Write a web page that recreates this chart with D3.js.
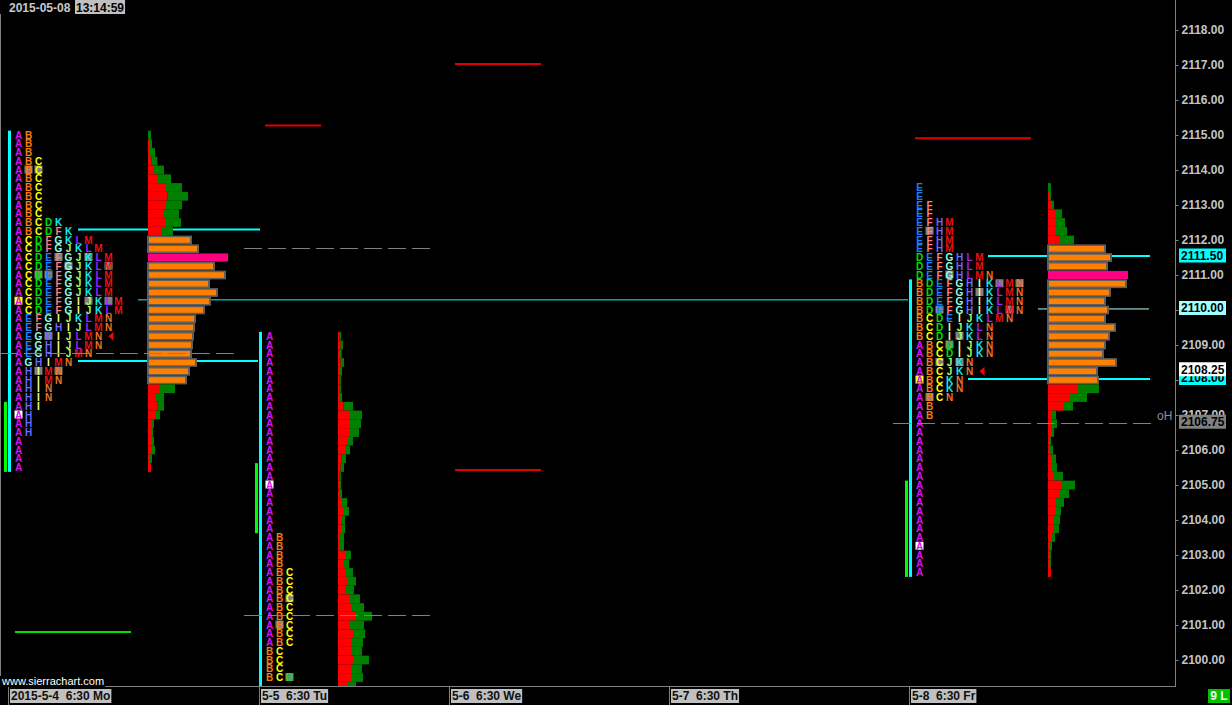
<!DOCTYPE html>
<html><head><meta charset="utf-8">
<script src="https://cdn.jsdelivr.net/npm/d3@7"></script>
<style>html,body{margin:0;padding:0;background:#000;}svg{display:block;}</style>
</head><body><svg id="c" width="1232" height="705"></svg>
<script>
// ================= DATA =================
const dateStamp = "2015-05-08";
const timeStamp = "13:14:59";
const sessionLabels = ["2015-5-4  6:30 Mo", "5-5  6:30 Tu", "5-6  6:30 We", "5-7  6:30 Th", "5-8  6:30 Fr"];
const priceTicks = [2100, 2101, 2102, 2103, 2104, 2105, 2106, 2107, 2108, 2109, 2110, 2111, 2112, 2113, 2114, 2115, 2116, 2117, 2118];

// TPO letter rows (top price, then one string per 0.25 step downward)
const day1TpoTop = 2115.00;
const day1Rows = ["AB","AB","AB","ABC","ABC","ABC","ABC","ABC","ABC","ABC","ABCDK","ABCDFK",
  "ACDFGKLM","ACDFGJKLM","ACDEFGJKLM","ACDEFGJKLM","ACDEFGJKLM","ACDEFGJKLM","ACDEFGJKLM",
  "ACDEFGIJKLM","ACDEFGIJKLM","AEFGIJKLMN","AEFGHIJLMN","AEGHIJLMN","AEGHIJLMN","AEGHIJMN",
  "AGHIMN","AHIMN","AHIMN","AHIN","AHIN","AHI","AH","AH","AH","A","A","A","A"];
const day1Highlights = [[2114.00,"B","g"],[2114.00,"C","g"],[2111.50,"F","g"],[2111.50,"K","g"],
  [2111.25,"G","g"],[2111.25,"M","g"],[2111.00,"D","g"],[2111.00,"E","g"],[2110.25,"A","y"],
  [2110.25,"J","g"],[2110.25,"L","g"],[2109.25,"H","g"],[2108.25,"I","g"],[2108.25,"N","g"],[2107.00,"A","w"]];
const day1Marker = 2109.25;
const day1IB = [2115.00, 2105.50];
const day1Green = [2107.25, 2105.50];

const day2TpoTop = 2109.25;
const day2Rows = ["A","A","A","A","A","A","A","A","A","A","A","A","A","A","A","A","A","A","A","A","A","A","A",
  "AB","AB","AB","AB","ABC","ABC","ABC","ABC","ABC","ABC","ABC","ABC","ABC","BC","BC","BC","BCD","BCD"];
const day2Highlights = [[2105.00,"A","w"],[2101.75,"C","g"],[2101.00,"B","g"],[2099.50,"D","g"]];
const day2IB = [2109.25, 2099.25];
const day2Green = [2105.50, 2103.75];

const day5TpoTop = 2113.50;
const day5Rows = ["E","E","EF","EF","EFHM","EFHM","EFHM","EFHM","DEFGHLM","DEFGHLM","DEFGHLMN",
  "BDEFGHIKLMN","BDEFGHIKLMN","BDEFGHIKLMN","BDEFGHIKLMN","BCDEIJKLMN","BCDIJKLN","BCDIJKLN",
  "ABCDIJKN","ABCDIJKN","ABCJKN","ABCJKN","ABCKN","ABCKN","ABCN","AB","AB",
  "A","A","A","A","A","A","A","A","A","A","A","A","A","A","A","A","A","A"];
const day5Highlights = [[2112.25,"F","g"],[2111.00,"G","g"],[2110.75,"L","g"],[2110.75,"N","g"],
  [2110.50,"I","g"],[2110.00,"E","g"],[2110.00,"M","g"],[2109.25,"J","g"],[2109.00,"D","g"],
  [2108.50,"C","g"],[2108.50,"K","g"],[2108.00,"A","y"],[2107.50,"B","g"],[2103.25,"A","w"]];
const day5Marker = 2108.25;
const day5IB = [2110.75, 2102.50];
const day5Green = [2105.00, 2102.50];

// Volume profiles (top price, totals and down-volume part per 0.25 row; null = hidden inside value area)
const day1VolTop = 2115.00;
const day1Total = [3,4,7,9.3,16,23,34,40,34,31,33,25, 44,51,80,67,78,62,70,63,57,48,47,46,45,44,49,42,39, 27,16,16,12,6,5,6,7,4,3];
const day1Red = [0,2,2,3.7,6,10,18,19.3,18,16,18,13, null,null,null,null,null,null,null,null,null,null,null,null,null,null,null,null,null, 12,8,9.3,7,4,3,3,3,2,3];
const day1VA = [2112.00, 2108.00];
const day1POC = 2111.50;

const day2VolTop = 2109.25;
const day2Total = [3,5,3.7,6,4,3,3,4,15,24,23,21,15,12,8,6,3,3,4,9,11,7,7,6,6,13,11,15,18,16,22,26,34,26,27,25,24,31,24,25,18];
const day2Red = [1.3,2.7,2,2.7,2,1.3,1.3,2,5.3,11,11,11,9,7,3.7,2.7,1.3,2,2,4,5,4,3,2,2,7,6,7,9,8,11,14,18,12,16,13,13,16,13,14,10];

const day5VolTop = 2113.50;
const day5Total = [3,3,6,14,17,19,26, 58,64,60,80,79,63,58,61,58,68,62,58,56,69,50,51, 51,39,25,8,9,6,3,5,8,9,15,27,21,16,13,12,11,7,4,3,3,3];
const day5Red = [0,1,3,7,8,8,12, null,null,null,null,null,null,null,null,null,null,null,null,null,null,null,null, 29,22,15,4,4,3,2,2,4,4,6,13,11,8,7,6,5,4,2,1,1,3];
const day5VA = [2111.75, 2108.00];
const day5POC = 2111.00;

// Horizontal reference levels (prices)
const cyanLevels = [2112.30, 2108.54, 2110.29, 2111.54, 2108.03, 2110.03];
const redLevels = [2115.27, 2117.03, 2105.43, 2114.91];
const dashLevels = [2108.77, 2111.77, 2101.29, 2106.77];
const greenLevels = [2100.80];
const axisMarkers = [2111.50, 2110.00, 2108.00, 2108.25, 2106.75];

// ================= LAYOUT / STYLE =================
const W = 1232, H = 705, plotRight = 1175, plotBottom = 686;
const sessionStartCol = [0.8, 25.9, 44.9, 66.9, 90.9];
const tpoOffsetCol = 1.05;
const volOffsetCol = [14.0, 7.9, null, null, 13.9];
const cyanLayout = [[7.8,26.0,2],[7.8,25.8,2],[13.8,90.8,1],[98.8,115.0,2],[96.8,115.0,2],[103.8,114.9,1]];
const redLayout = [[26.5,32.1],[45.5,54.1],[45.5,54.1],[91.5,103.1]];
const dashLayout = [[0,23.8],[24.4,43.0],[24.4,43.0],[89.3,115.2]];
const greenLayout = [[1.5,13.1]];
const markerStyles = ["#00ffff","#a0ffff","#00ffff","#ffffff","#808080"];
const letterColors = {A:"#dc10f4",B:"#f47c10",C:"#ffff00",D:"#00e000",E:"#1a80ff",F:"#ff8080",G:"#90ffe0",
  H:"#6a6aff",I:"#eeff90",J:"#a8ff60",K:"#10ecec",L:"#a424ff",M:"#ec1010",N:"#ec7424"};
const hlColors = {g:"#808080", y:"#ffff00", w:"#ffffff"};
const FONT = "'Liberation Sans', Arial, sans-serif";

// ================= SCALES =================
const y = d3.scaleLinear().domain([2100, 2118]).range([660, 30]);
const rowH = Math.abs(y(2100.25) - y(2100));
const xCol = d3.scaleLinear().domain([0, 117.5]).range([0, plotRight]);
const vol = d3.scaleLinear().domain([0, 80]).range([0, 80]);

const svg = d3.select("#c");
svg.append("rect").attr("width", W).attr("height", H).attr("fill", "#000");
svg.append("defs").append("clipPath").attr("id", "clip")
  .append("rect").attr("x", 0).attr("y", 0).attr("width", plotRight).attr("height", plotBottom);
const plot = svg.append("g").attr("clip-path", "url(#clip)");

const profiles = [
  {day:0, tpoTop:day1TpoTop, rows:day1Rows, hl:day1Highlights, marker:day1Marker, ib:day1IB, green:day1Green,
   volTop:day1VolTop, total:day1Total, red:day1Red, va:day1VA, poc:day1POC},
  {day:1, tpoTop:day2TpoTop, rows:day2Rows, hl:day2Highlights, marker:null, ib:day2IB, green:day2Green,
   volTop:day2VolTop, total:day2Total, red:day2Red, va:null, poc:null},
  {day:4, tpoTop:day5TpoTop, rows:day5Rows, hl:day5Highlights, marker:day5Marker, ib:day5IB, green:day5Green,
   volTop:day5VolTop, total:day5Total, red:day5Red, va:day5VA, poc:day5POC}
];

// IB (cyan) and green bars
profiles.forEach(p => {
  const bx = xCol(sessionStartCol[p.day]);
  plot.append("rect").attr("x", bx).attr("y", y(p.ib[0]) - rowH/2).attr("width", 3)
    .attr("height", y(p.ib[1]) - y(p.ib[0]) + rowH).attr("fill", "#00ffff");
  plot.append("rect").attr("x", bx - 4).attr("y", y(p.green[0]) - rowH/2).attr("width", 3)
    .attr("height", y(p.green[1]) - y(p.green[0]) + rowH).attr("fill", "#00ff00");
});

// TPO letters
profiles.forEach(p => {
  const c0 = sessionStartCol[p.day] + tpoOffsetCol;
  const g = plot.append("g");
  p.rows.forEach((s, i) => {
    const price = p.tpoTop - i * 0.25;
    const cy = y(price);
    if (cy > plotBottom - 2) return;
    [...s].forEach((ch, j) => {
      const cx = xCol(c0 + j);
      const h = p.hl.find(d => d[0] === price && d[1] === ch);
      if (h) g.append("rect").attr("x", cx - 4).attr("y", cy - 4.5).attr("width", 8).attr("height", 8).attr("fill", hlColors[h[2]]);
      g.append("text").attr("x", cx).attr("y", cy).attr("dy", "0.37em").attr("text-anchor", "middle")
        .attr("font-family", FONT).attr("font-size", "10px").attr("font-weight", "bold")
        .attr("fill", letterColors[ch]).text(ch);
    });
    if (p.marker === price) {
      const mx = xCol(c0 + s.length + 0.25);
      plot.append("path").attr("d", `M${mx-2.5},${cy} L${mx+2.5},${cy-4.5} L${mx+2.5},${cy+4.5} Z`).attr("fill", "#ff0000");
    }
  });
});

// Cyan levels (under volume bars)
cyanLevels.forEach((pr, i) => {
  const L = cyanLayout[i];
  plot.append("line").attr("x1", xCol(L[0])).attr("x2", xCol(L[1])).attr("y1", y(pr)).attr("y2", y(pr))
    .attr("stroke", i === 5 ? "#b0ffff" : "#00ffff").attr("stroke-width", L[2]);
});

// Volume profiles
profiles.forEach(p => {
  const x0 = xCol(sessionStartCol[p.day] + volOffsetCol[p.day]);
  const g = plot.append("g");
  p.total.forEach((t, i) => {
    const price = p.volTop - i * 0.25;
    const top = y(price) - rowH / 2;
    const w = vol(t);
    const inVA = p.va && price <= p.va[0] && price >= p.va[1];
    if (p.poc === price) {
      g.append("rect").attr("x", x0).attr("y", top + 0.3).attr("width", w).attr("height", rowH - 0.6).attr("fill", "#ff0080");
    } else if (inVA) {
      g.append("rect").attr("x", x0 - 1).attr("y", top).attr("width", w + 1).attr("height", rowH).attr("fill", "#5f5f5f");
      g.append("rect").attr("x", x0 + 1).attr("y", top + 1.6).attr("width", Math.max(0, w - 3)).attr("height", rowH - 3.2).attr("fill", "#ff8000");
    } else {
      const r = vol(p.red[i]);
      g.append("rect").attr("x", x0).attr("y", top).attr("width", r).attr("height", rowH).attr("fill", "#ff0000");
      g.append("rect").attr("x", x0 + r).attr("y", top).attr("width", Math.max(0, w - r)).attr("height", rowH).attr("fill", "#008000");
    }
  });
});

// Dashed levels
dashLevels.forEach((pr, i) => {
  const L = dashLayout[i];
  plot.append("line").attr("x1", xCol(L[0])).attr("x2", xCol(L[1])).attr("y1", Math.round(y(pr)) + 0.5).attr("y2", Math.round(y(pr)) + 0.5)
    .attr("stroke", "#808080").attr("stroke-width", 1).attr("stroke-dasharray", "18,6");
});
// Red levels
redLevels.forEach((pr, i) => {
  const L = redLayout[i];
  plot.append("line").attr("x1", xCol(L[0])).attr("x2", xCol(L[1])).attr("y1", y(pr)).attr("y2", y(pr))
    .attr("stroke", "#e00000").attr("stroke-width", 2);
});
// Green levels
greenLevels.forEach((pr, i) => {
  const L = greenLayout[i];
  plot.append("line").attr("x1", xCol(L[0])).attr("x2", xCol(L[1])).attr("y1", y(pr)).attr("y2", y(pr))
    .attr("stroke", "#00e000").attr("stroke-width", 2);
});
// "oH" label
plot.append("text").attr("x", 1157).attr("y", y(dashLevels[3]) - 3).attr("font-family", FONT).attr("font-size", "12px")
  .attr("fill", "#8595a5").text("oH");

// Frame lines
svg.append("line").attr("x1", 0.5).attr("x2", 0.5).attr("y1", 14).attr("y2", plotBottom).attr("stroke", "#808080");
svg.append("line").attr("x1", plotRight + 0.5).attr("x2", plotRight + 0.5).attr("y1", 0).attr("y2", plotBottom + 0.5).attr("stroke", "#808080");
svg.append("line").attr("x1", 0).attr("x2", plotRight + 1).attr("y1", plotBottom + 0.5).attr("y2", plotBottom + 0.5).attr("stroke", "#808080");

// Y axis
const yAxis = d3.axisRight(y).tickValues(priceTicks).tickSize(3).tickPadding(3).tickFormat(d => d.toFixed(2));
const ya = svg.append("g").attr("transform", `translate(${plotRight + 0.5},0)`).call(yAxis);
ya.select(".domain").remove();
ya.selectAll(".tick line").attr("stroke", "#808080");
ya.selectAll(".tick text").attr("fill", "#c4c4c4").attr("font-family", FONT).attr("font-size", "12px").attr("font-weight", "bold");

// Highlighted price markers on the axis
axisMarkers.forEach((pr, i) => {
  const cy = y(pr) - 2;
  svg.append("rect").attr("x", 1179).attr("y", cy - 7).attr("width", 47).attr("height", 14).attr("fill", markerStyles[i]);
  svg.append("text").attr("x", 1181).attr("y", cy).attr("dy", "0.36em").attr("font-family", FONT).attr("font-size", "12px")
    .attr("font-weight", "bold").attr("fill", "#000").text(pr.toFixed(2));
});

// Bottom session labels
sessionLabels.forEach((lab, i) => {
  const bx = xCol(sessionStartCol[i]);
  svg.append("line").attr("x1", Math.round(bx) + 0.5).attr("x2", Math.round(bx) + 0.5).attr("y1", plotBottom).attr("y2", H).attr("stroke", "#808080");
  const t = svg.append("text").attr("x", bx + 3).attr("y", 700).attr("font-family", FONT).attr("font-size", "12px")
    .attr("font-weight", "bold").attr("fill", "#101010").attr("xml:space", "preserve").style("white-space", "pre").text(lab);
  const len = t.node().getComputedTextLength();
  svg.insert("rect", () => t.node()).attr("x", bx + 2).attr("y", 689).attr("width", len + 2).attr("height", 14).attr("fill", "#c0c0c0");
});

// watermark
const wm = svg.append("text").attr("x", 2).attr("y", 685).attr("font-family", FONT).attr("font-size", "11px").attr("fill", "#ffffff").text("www.sierrachart.com");
const wl = wm.node().getComputedTextLength();
svg.insert("rect", () => wm.node()).attr("x", 0).attr("y", 676).attr("width", wl + 3).attr("height", 11).attr("fill", "#000");

// Top-left timestamp
svg.append("text").attr("x", 9).attr("y", 12).attr("font-family", FONT).attr("font-size", "12px").attr("font-weight", "bold")
  .attr("fill", "#c8c8c8").text(dateStamp);
const ts = svg.append("text").attr("x", 76).attr("y", 12).attr("font-family", FONT).attr("font-size", "12px").attr("font-weight", "bold")
  .attr("fill", "#000").text(timeStamp);
const tl = ts.node().getComputedTextLength();
svg.insert("rect", () => ts.node()).attr("x", 75).attr("y", 0).attr("width", tl + 2).attr("height", 14).attr("fill", "#c0c0c0");

// "9 L" box
svg.append("rect").attr("x", 1208).attr("y", 689).attr("width", 22).attr("height", 14).attr("fill", "#00c000");
svg.append("text").attr("x", 1219).attr("y", 700).attr("text-anchor", "middle").attr("font-family", FONT).attr("font-size", "12px")
  .attr("font-weight", "bold").attr("fill", "#e8ffe8").text("9 L");
</script></body></html>
